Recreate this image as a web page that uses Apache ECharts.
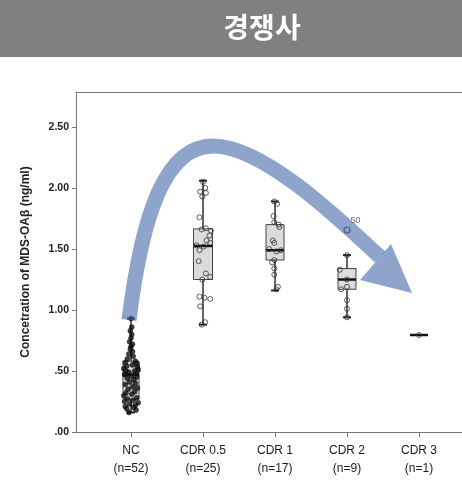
<!DOCTYPE html>
<html>
<head>
<meta charset="utf-8">
<script src="https://cdn.jsdelivr.net/npm/echarts@6/dist/echarts.min.js"></script>
<style>
html, body { margin: 0; padding: 0; background: #fff; }
#main { width: 462px; height: 484px; }
</style>
</head>
<body>
<div id="main"></div>
<script>
// 그룹 / 눈금
const categories = ['NC', 'CDR 0.5', 'CDR 1', 'CDR 2', 'CDR 3']
const groupSizes = [52, 25, 17, 9, 1]
const yTicks = [0, 0.5, 1, 1.5, 2, 2.5]

// 박스플롯 요약값 (whisker low, Q1, median, Q3, whisker high)
const boxLow = [0.16, 0.88, 1.16, 0.94, 0.795]
const boxQ1 = [0.27, 1.25, 1.41, 1.17, 0.795]
const boxMedian = [0.47, 1.525, 1.49, 1.25, 0.795]
const boxQ3 = [0.58, 1.665, 1.70, 1.34, 0.795]
const boxHigh = [0.93, 2.06, 1.89, 1.45, 0.795]

// 개별 측정값
const ncValues = [0.93, 0.86, 0.83, 0.80, 0.77, 0.74, 0.72, 0.70, 0.68, 0.66,
  0.64, 0.62, 0.60, 0.58, 0.57, 0.56, 0.55, 0.54, 0.53, 0.52,
  0.51, 0.50, 0.50, 0.49, 0.48, 0.47, 0.46, 0.45, 0.44, 0.43,
  0.41, 0.40, 0.39, 0.37, 0.36, 0.35, 0.33, 0.32, 0.31, 0.30,
  0.28, 0.27, 0.26, 0.25, 0.24, 0.23, 0.22, 0.21, 0.20, 0.19,
  0.18, 0.16]
const ncJitter = [0, 0.01, -0.01, 0.01, 0, -0.02, 0.02, 0, -0.01, 0.02,
  -0.03, 0.03, -0.05, 0.06, -0.08, 0.08, 0.02, -0.06, 0.09, -0.1,
  0.1, -0.07, 0.05, -0.03, 0.07, -0.09, 0.01, 0.08, -0.05, 0.04,
  -0.02, 0.06, -0.08, 0.02, 0.09, -0.04, 0.05, -0.07, 0.01, -0.1,
  0.08, -0.05, 0.03, -0.09, 0.1, -0.02, 0.06, -0.08, 0.04, -0.06,
  0.07, -0.03]
const cdr05Values = [2.05, 2.00, 1.97, 1.96, 1.93, 1.76, 1.67, 1.66, 1.65, 1.61,
  1.57, 1.55, 1.53, 1.52, 1.49, 1.40, 1.30, 1.27, 1.25, 1.11,
  1.10, 1.09, 1.03, 0.90, 0.88]
const cdr05Jitter = [0, 0.03, -0.04, 0.04, -0.01, -0.05, 0.04, -0.02, 0.11, 0.09,
  0.05, 0.1, -0.09, 0.01, -0.05, -0.06, 0.04, 0.1, -0.01, -0.05,
  0.02, 0.1, -0.04, 0.03, -0.02]
const cdr1Values = [1.89, 1.87, 1.77, 1.72, 1.70, 1.68, 1.57, 1.55, 1.50, 1.49,
  1.48, 1.41, 1.39, 1.34, 1.29, 1.19, 1.17]
const cdr1Jitter = [-0.01, 0.03, -0.02, -0.01, 0.05, 0.06, -0.03, -0.01, -0.08, 0.08,
  0.02, -0.01, -0.04, -0.01, -0.01, 0.04, 0.02]
const cdr2Values = [1.45, 1.33, 1.25, 1.19, 1.17, 1.08, 1.01, 0.94]
const cdr2Jitter = [0, -0.1, 0, 0, -0.08, 0, 0, 0]
const cdr3Values = [0.795]
const outlierValue = 1.656
const outlierLabel = '50'

const boxHalfWidth = [8, 9.5, 9, 9, 9]

const chartDom = document.getElementById('main')
const chart = echarts.init(chartDom)

function toPoints(groupIdx, values, jitter) {
  return values.map((v, i) => [groupIdx + (jitter ? jitter[i] : 0), v])
}

const boxData = categories.map((c, i) => [i, boxLow[i], boxQ1[i], boxMedian[i], boxQ3[i], boxHigh[i]])
const hollowPoints = [].concat(
  toPoints(1, cdr05Values, cdr05Jitter),
  toPoints(2, cdr1Values, cdr1Jitter),
  toPoints(3, cdr2Values, cdr2Jitter),
  toPoints(4, cdr3Values)
)

const option = {
  animation: false,
  grid: { left: 76, right: 0, top: 92, bottom: 52 },
  xAxis: [{
    type: 'value',
    min: -0.764,
    max: 4.597,
    axisLine: { show: true, onZero: false, lineStyle: { color: '#777', width: 1 } },
    axisTick: { show: true, length: 5, customValues: [0, 1, 2, 3, 4], lineStyle: { color: '#777' } },
    axisLabel: {
      customValues: [0, 1, 2, 3, 4],
      margin: 10,
      fontSize: 12,
      lineHeight: 18,
      color: '#1a1a1a',
      fontFamily: 'Liberation Sans',
      formatter: (v) => {
        const i = Math.round(v)
        return categories[i] + '\n(n=' + groupSizes[i] + ')'
      }
    },
    splitLine: { show: false }
  }, {
    type: 'value',
    position: 'top',
    min: -0.764,
    max: 4.597,
    axisLine: { show: true, onZero: false, lineStyle: { color: '#777', width: 1 } },
    axisTick: { show: false },
    axisLabel: { show: false },
    splitLine: { show: false }
  }],
  yAxis: {
    type: 'value',
    min: 0,
    max: 2.787,
    name: 'Concetration of MDS-OAβ (ng/ml)',
    nameLocation: 'middle',
    nameGap: 44,
    nameTextStyle: { fontSize: 12, fontWeight: 'bold', color: '#222', fontFamily: 'Liberation Sans' },
    axisLine: { show: true, onZero: false, lineStyle: { color: '#777', width: 1 } },
    axisTick: { show: true, length: 4, customValues: yTicks, lineStyle: { color: '#777' } },
    axisLabel: {
      customValues: yTicks,
      margin: 7,
      fontSize: 10.5,
      fontWeight: 'bold',
      color: '#222',
      fontFamily: 'Liberation Sans',
      formatter: (v) => v.toFixed(2).replace(/^0/, '')
    },
    splitLine: { show: false }
  },
  series: [{
    type: 'custom',
    name: 'box',
    data: boxData,
    z: 2,
    renderItem: (params, api) => {
      const x = api.value(0)
      const lo = api.coord([x, api.value(1)])
      const q1 = api.coord([x, api.value(2)])
      const md = api.coord([x, api.value(3)])
      const q3 = api.coord([x, api.value(4)])
      const hi = api.coord([x, api.value(5)])
      const hw = boxHalfWidth[params.dataIndex]
      const cx = lo[0]
      const cap = 4
      return {
        type: 'group',
        children: [
          { type: 'line', shape: { x1: cx, y1: hi[1], x2: cx, y2: lo[1] }, style: { stroke: '#333', lineWidth: 1.5 } },
          { type: 'line', shape: { x1: cx - cap, y1: hi[1], x2: cx + cap, y2: hi[1] }, style: { stroke: '#222', lineWidth: 2 } },
          { type: 'line', shape: { x1: cx - cap, y1: lo[1], x2: cx + cap, y2: lo[1] }, style: { stroke: '#222', lineWidth: 2 } },
          { type: 'rect', shape: { x: cx - hw, y: q3[1], width: hw * 2, height: q1[1] - q3[1] }, style: { fill: '#dcdcdc', stroke: '#444', lineWidth: 1 } },
          { type: 'line', shape: { x1: cx - hw, y1: md[1], x2: cx + hw, y2: md[1] }, style: { stroke: '#111', lineWidth: 2.5 } }
        ]
      }
    }
  }, {
    type: 'scatter',
    name: 'NC',
    data: toPoints(0, ncValues, ncJitter),
    symbol: 'circle',
    symbolSize: 5,
    z: 3,
    itemStyle: { color: '#111', borderColor: '#000', borderWidth: 0.5 }
  }, {
    type: 'scatter',
    name: 'CDR',
    data: hollowPoints,
    symbol: 'circle',
    symbolSize: 5,
    z: 3,
    itemStyle: { color: 'rgba(255,255,255,0)', borderColor: '#333', borderWidth: 1 }
  }, {
    type: 'scatter',
    name: 'outlier',
    data: [[3, outlierValue]],
    symbol: 'circle',
    symbolSize: 6,
    z: 3,
    itemStyle: { color: 'rgba(255,255,255,0)', borderColor: '#222', borderWidth: 1.2 },
    label: { show: true, formatter: outlierLabel, position: [7, -10], fontSize: 9, color: '#444', fontFamily: 'Liberation Sans' }
  }]
}
chart.setOption(option)

// 곡선 화살표 (데이터 좌표 기준): 시작, 제어점1, 제어점2, 꼭대기, 제어점3, 제어점4, 끝
const arrowPath = [[-0.028, 0.918], [0.153, 1.779], [0.472, 2.344], [1.139, 2.344],
  [1.819, 2.344], [2.833, 1.779], [3.458, 1.434]]
const arrowHead = [[3.611, 1.541], [3.903, 1.139], [3.181, 1.246]]
const px = (p) => chart.convertToPixel({ seriesIndex: 1 }, p)
const ap = arrowPath.map(px)
const ah = arrowHead.map(px)
const arrowColor = 'rgba(68,104,166,0.6)'

function bez(a, b, c, d) {
  return {
    type: 'bezierCurve',
    shape: { x1: a[0], y1: a[1], cpx1: b[0], cpy1: b[1], cpx2: c[0], cpy2: c[1], x2: d[0], y2: d[1] },
    style: { fill: null, stroke: arrowColor, lineWidth: 15, lineCap: 'butt' },
    z: 20
  }
}

chart.setOption({
  graphic: [{
    type: 'rect',
    left: 0,
    top: 0,
    shape: { width: 462, height: 57 },
    style: { fill: '#808080' },
    z: 10
  }, {
    type: 'text',
    x: 262,
    y: 27,
    style: {
      text: '경쟁사',
      fill: '#fff',
      font: 'bold 28px "Noto Sans CJK KR"',
      align: 'center',
      verticalAlign: 'middle'
    },
    z: 11
  },
  bez(ap[0], ap[1], ap[2], ap[3]),
  bez(ap[3], ap[4], ap[5], ap[6]),
  {
    type: 'polygon',
    shape: { points: ah },
    style: { fill: arrowColor },
    z: 20
  }]
})
</script>
</body>
</html>
